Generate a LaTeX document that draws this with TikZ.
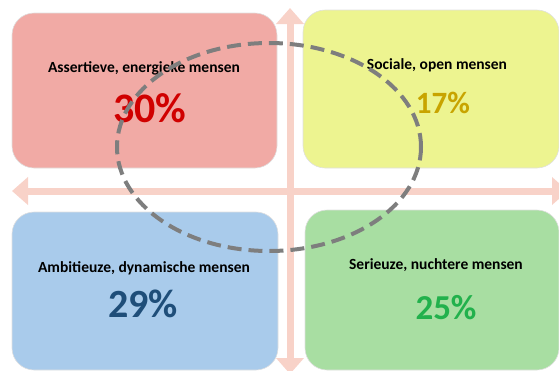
\documentclass[tikz,border=0pt]{standalone}
\usepackage{fontspec}
\setmainfont{Carlito}
\usetikzlibrary{arrows.meta,positioning}

\definecolor{redq}{HTML}{F1AAA5}
\definecolor{yellowq}{HTML}{EDF490}
\definecolor{blueq}{HTML}{A9CBEB}
\definecolor{greenq}{HTML}{A8DEA2}
\definecolor{axpink}{HTML}{F8D2C8}
\definecolor{redpct}{HTML}{D00000}
\definecolor{goldpct}{HTML}{C8A400}
\definecolor{bluepct}{HTML}{1F4E79}
\definecolor{greenpct}{HTML}{22B14C}
\definecolor{ringgray}{HTML}{7E7E7E}

\begin{document}
\begin{tikzpicture}[x=1pt,y=-1pt,
    quad/.style={rounded corners=22pt, draw=black!12, line width=0.6pt, inner sep=0pt},
    lbl/.style={font=\bfseries\fontsize{15.5}{17}\selectfont},
    pct/.style={font=\bfseries\fontsize{#1}{#1}\selectfont},
    axis/.style={draw=axpink, line width=7pt,
        {Triangle[width=27pt,length=16pt]}-{Triangle[width=27pt,length=16pt]}},
    dashring/.style={draw=ringgray, line width=4pt, dash pattern=on 14pt off 7pt}]
    \clip (0,0) rectangle (559,370);

    % quadrants
    \node[quad, fill=redq, minimum width=265pt, minimum height=155pt] (ae) at (144.5,90.5) {};
    \node[quad, fill=yellowq, minimum width=256pt, minimum height=158pt] (so) at (431,89) {};
    \node[quad, fill=blueq, minimum width=266pt, minimum height=158pt] (ad) at (145,291) {};
    \node[quad, fill=greenq, minimum width=254pt, minimum height=160pt] (sn) at (432,290) {};

    % axes
    \coordinate (top) at (290,8);
    \coordinate (bottom) at (290,374);
    \coordinate (left) at (12,191);
    \coordinate (right) at (568,191);
    \draw[axis] (top) -- (bottom);
    \draw[axis] (left) -- (right);

    \node[lbl] (aetxt) at (144,68) {Assertieve, energieke mensen};
    \node[pct=42, text=redpct] (aepct) at (150,108) {30\%};
    \node[lbl] (sotxt) at (437,65) {Sociale, open mensen};
    \node[pct=31, text=goldpct] (sopct) at (443,103) {17\%};
    \node[lbl] (adtxt) at (144,268) {Ambitieuze, dynamische mensen};
    \node[pct=40, text=bluepct] (adpct) at (143,304) {29\%};
    \node[lbl] (sntxt) at (436,265) {Serieuze, nuchtere mensen};
    \node[pct=35, text=greenpct] (snpct) at (446,308) {25\%};

    \draw[dashring] (269,147) ellipse [x radius=152pt, y radius=104pt];
\end{tikzpicture}
\end{document}
